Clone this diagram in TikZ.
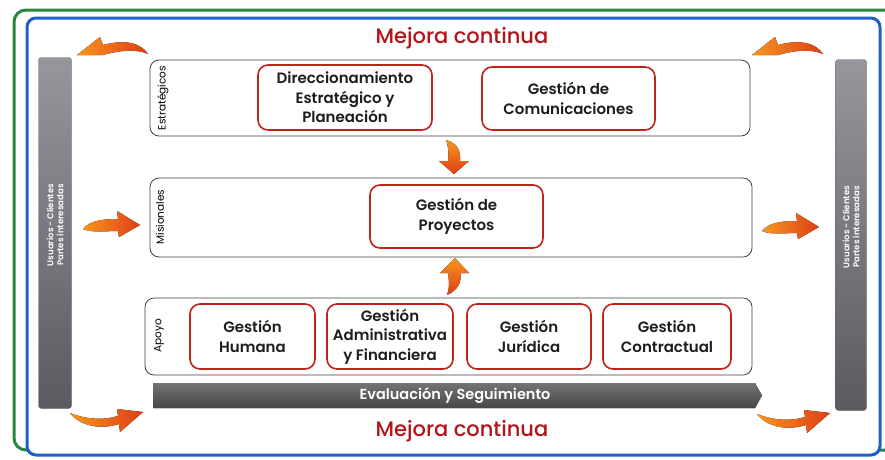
\documentclass[tikz,border=0pt]{standalone}
\usepackage{fontspec}
\setmainfont{Poppins}[BoldFont={Poppins SemiBold}]
\newfontfamily\pmed{Poppins Medium}
\definecolor{boxred}{RGB}{190,35,28}
\definecolor{mejred}{RGB}{180,20,25}
\definecolor{txt}{RGB}{30,28,30}
\definecolor{grn}{RGB}{40,135,60}
\definecolor{blu}{RGB}{30,95,200}
\definecolor{barlight}{RGB}{150,151,156}
\definecolor{bardark}{RGB}{90,91,96}
\definecolor{orA}{RGB}{248,150,30}
\definecolor{orB}{RGB}{222,62,22}
\begin{document}
\begin{tikzpicture}[x=1pt,y=-1pt,
  procbox/.style={draw=boxred, line width=1.6pt, rounded corners=10pt, fill=white,
    align=center, text=txt, font=\fontsize{15}{19.5}\selectfont\bfseries, inner sep=1pt},
  band/.style={draw=black!75, line width=0.8pt, rounded corners=9pt, fill=white},
  bandlabel/.style={rotate=90, font=\fontsize{10.5}{11}\selectfont, text=black},
  sidebar/.style={rounded corners=3pt, top color=barlight, bottom color=bardark, draw=black!60, line width=0.4pt},
  sidetext/.style={rotate=90, text=white, align=center, font=\fontsize{8.5}{10}\selectfont\bfseries},
  mejora/.style={text=mejred, font=\fontsize{21}{24}\selectfont\pmed},
  oarrow/.style={left color=orA, right color=orB, draw=none},
  varrow/.style={top color=orA, bottom color=orB, draw=none}
]
\useasboundingbox (0,0) rectangle (885,459);
% frames
\draw[grn, line width=3pt, rounded corners=12pt] (14,10) rectangle (905,450);
\draw[blu, line width=3pt, rounded corners=9pt, fill=white] (27,18) rectangle (880,455);

% titles
\node[mejora] (mtop) at (462,38) {Mejora continua};
\node[mejora] (mbot) at (462,431) {Mejora continua};

% side bars
\node[sidebar, minimum width=33pt, minimum height=351pt] (lbar) at (55,233) {};
\node[sidetext] (ltext) at (55,225) {Usuarios - Clientes\\Partes interesadas};
\node[sidebar, minimum width=31pt, minimum height=351pt] (rbar) at (851,235) {};
\node[sidetext] (rtext) at (851,227) {Usuarios - Clientes\\Partes interesadas};

% bands
\node[band, minimum width=600pt, minimum height=76pt] (bE) at (450,98) {};
\node[band, minimum width=602pt, minimum height=79pt] (bM) at (451,217.5) {};
\node[band, minimum width=607pt, minimum height=77pt] (bA) at (448.5,336.5) {};
\node[bandlabel] (lE) at (163,98) {Estratégicos};
\node[bandlabel] (lM) at (160,217) {Misionales};
\node[bandlabel] (lA) at (159,336) {Apoyo};

% process boxes
\node[procbox, minimum width=174pt, minimum height=65pt] (dir) at (345,97.5) {Direccionamiento\\Estratégico y\\Planeación};
\node[procbox, minimum width=173pt, minimum height=63pt] (com) at (568.5,98.5) {Gestión de\\Comunicaciones};
\node[procbox, minimum width=173pt, minimum height=63pt] (pro) at (456.5,216.5) {Gestión de\\Proyectos};
\node[procbox, minimum width=125pt, minimum height=65pt] (hum) at (252.5,336.5) {Gestión\\Humana};
\node[procbox, minimum width=126pt, minimum height=65pt] (adm) at (390,336.5) {Gestión\\Administrativa\\y Financiera};
\node[procbox, minimum width=124pt, minimum height=65pt] (jur) at (529,336.5) {Gestión\\Jurídica};
\node[procbox, minimum width=128pt, minimum height=65pt] (con) at (667,336.5) {Gestión\\Contractual};

% evaluation bar
\fill[top color=black!55, bottom color=black!72] (153,383) -- (755,383) -- (762,395.5) -- (755,408) -- (153,408) -- cycle;
\node[text=white, font=\fontsize{14.5}{16}\selectfont\bfseries] (eval) at (455,395.5) {Evaluación y Seguimiento};

% vertical arrows
\fill[varrow] (446,140) .. controls (458,143) and (461,152) .. (460,161) -- (469,161) -- (454,174) -- (439,161) -- (448,161) .. controls (449,152) and (448,145) .. (446,140) -- cycle;
\fill[varrow] (455,258) -- (469,273) -- (461,273) .. controls (461,283) and (458,290) .. (447,295) .. controls (450,288) and (449,280) .. (448,273) -- (440,273) -- cycle;

% middle side arrows
\fill[oarrow] (83,229) .. controls (90,220) and (105,219) .. (118,219) -- (117,211) -- (140,225) -- (119,237) -- (118,231) .. controls (105,231) and (92,233) .. (83,229) -- cycle;
\begin{scope}[shift={(679,2)}]
\fill[oarrow] (83,229) .. controls (90,220) and (105,219) .. (118,219) -- (117,211) -- (140,225) -- (119,237) -- (118,231) .. controls (105,231) and (92,233) .. (83,229) -- cycle;
\end{scope}

% top curved arrows
\fill[oarrow] (77,55) -- (100,37) -- (103,45) .. controls (125,39) and (141,43) .. (148,54) .. controls (138,49) and (120,50) .. (103,55) -- cycle;
\begin{scope}[shift={(675,0)}]
\fill[oarrow] (77,55) -- (100,37) -- (103,45) .. controls (125,39) and (141,43) .. (148,54) .. controls (138,49) and (120,50) .. (103,55) -- cycle;
\end{scope}

% bottom curved arrows
\fill[oarrow] (70,413) .. controls (88,420) and (105,420) .. (118,416) -- (117,409) -- (143,412) -- (120,432) -- (119,424) .. controls (100,430) and (80,426) .. (70,413) -- cycle;
\begin{scope}[shift={(687,1)}]
\fill[oarrow] (70,413) .. controls (88,420) and (105,420) .. (118,416) -- (117,409) -- (143,412) -- (120,432) -- (119,424) .. controls (100,430) and (80,426) .. (70,413) -- cycle;
\end{scope}
\end{tikzpicture}
\end{document}
